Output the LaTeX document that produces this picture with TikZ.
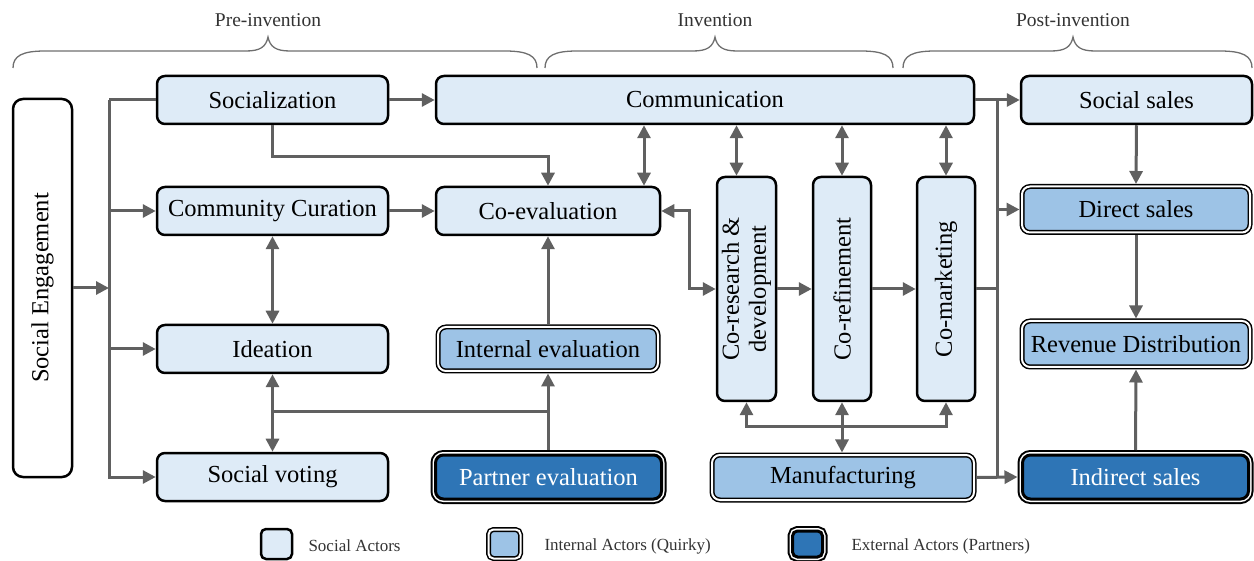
\documentclass[tikz,border=0pt]{standalone}
\usepackage{fontspec}
\setmainfont{Liberation Serif}
\usetikzlibrary{arrows.meta}
\definecolor{lightfill}{HTML}{DEEBF7}
\definecolor{midfill}{HTML}{9DC3E6}
\definecolor{darkfill}{HTML}{2E75B6}
\definecolor{linkgray}{HTML}{606060}
\definecolor{bracegray}{HTML}{6E6E6E}
\definecolor{labelgray}{HTML}{333333}

\tikzset{
  sz/.style 2 args={minimum width=#1, minimum height=#2},
  boxfont/.style={font=\fontsize{24.5}{27}\selectfont},
  social/.style={draw=black, line width=2.5pt, fill=lightfill, rounded corners=8pt,
    inner sep=0pt, align=center, boxfont},
  internal/.style={draw=black, line width=1.5pt, double=white, double distance=2pt,
    fill=midfill, rounded corners=8pt, inner sep=0pt, outer sep=2.5pt, align=center, boxfont},
  external/.style={preaction={draw=black, line width=10pt},
    preaction={draw=white, line width=6pt},
    draw=black, line width=3pt, fill=darkfill, text=white, rounded corners=8pt,
    inner sep=0pt, outer sep=5pt, align=center, boxfont},
  conn/.style={draw=linkgray, line width=3pt},
  >={Triangle[length=13pt, width=13pt]},
  bracestyle/.style={draw=bracegray, line width=1.3pt},
  phase/.style={font=\fontsize{19.5}{22}\selectfont, text=labelgray},
  legendtext/.style={font=\fontsize{17}{20}\selectfont, text=labelgray, anchor=west},
  vtext/.style={rotate=90, align=center, font=\fontsize{24.5}{27}\selectfont}
}

\begin{document}
\begin{tikzpicture}[x=1pt, y=-1pt]
\useasboundingbox (0,0) rectangle (1254,561);

% phase braces and labels
\draw[bracestyle] (13,68) .. controls (13,56) and (22,51) .. (45,51) -- (246,51)
  .. controls (260,51) and (266,47) .. (268,37) .. controls (270,47) and (276,51) .. (290,51)
  -- (505,51) .. controls (528,51) and (537,56) .. (537,68);
\draw[bracestyle] (545,68) .. controls (545,56) and (554,51) .. (577,51) -- (693,51)
  .. controls (707,51) and (713,47) .. (715,37) .. controls (717,47) and (723,51) .. (737,51)
  -- (861,51) .. controls (884,51) and (893,56) .. (893,68);
\draw[bracestyle] (903,68) .. controls (903,56) and (912,51) .. (935,51) -- (1051,51)
  .. controls (1065,51) and (1071,47) .. (1073,37) .. controls (1075,47) and (1081,51) .. (1095,51)
  -- (1220,51) .. controls (1243,51) and (1252,56) .. (1252,68);
\node[phase] (lpre)  at (268,20)  {Pre-invention};
\node[phase] (linv)  at (715,20)  {Invention};
\node[phase] (lpost) at (1073,20) {Post-invention};

% left column
\node[social, sz={59pt}{378pt}, rounded corners=10pt, fill=white] (seng) at (42.5,288) {};
\node[vtext] (sengtxt) at (seng) {Social Engagement};

\node[social, sz={231pt}{48pt}] (soc)  at (272.5,100) {Socialization};
\node[social, sz={231pt}{48pt}] (cur)  at (272.5,211) {Community Curation};
\node[social, sz={231pt}{48pt}] (idea) at (272.5,349) {Ideation};
\node[social, sz={231pt}{48pt}] (vote) at (272.5,477) {Social voting};

% evaluation column
\node[social, sz={538pt}{48pt}] (comm) at (705,100) {Communication};
\node[social, sz={224pt}{48pt}] (coev) at (548,211) {Co-evaluation};
\node[internal, sz={220pt}{44pt}] (inteval) at (548,349) {Internal evaluation};
\node[external, sz={226pt}{44pt}] (partner) at (548.5,477) {Partner evaluation};

% invention columns
\node[social, sz={59pt}{224pt}] (cord)   at (746.5,289) {};
\node[vtext] (cordtxt) at (cord) {Co-research \&\\development};
\node[social, sz={58pt}{224pt}] (coref)  at (842,289) {};
\node[vtext] (coreftxt) at (coref) {Co-refinement};
\node[social, sz={58pt}{224pt}] (comark) at (946,289) {};
\node[vtext] (comarktxt) at (comark) {Co-marketing};
\node[internal, sz={262pt}{45pt}] (manuf) at (843,477.5) {Manufacturing};

% sales column
\node[social, sz={231pt}{48pt}] (ssales) at (1136.5,100) {Social sales};
\node[internal, sz={228pt}{46pt}] (direct) at (1136,209.5) {Direct sales};
\node[internal, sz={228pt}{46pt}] (revenue) at (1136,344) {Revenue Distribution};
\node[external, sz={226pt}{44pt}] (indirect) at (1135.5,477) {Indirect sales};

% left bus
\coordinate (bl) at (109,100);
\draw[conn] (soc.west) -- (bl);
\draw[conn, ->] (bl) |- (vote.west);
\draw[conn, ->] (bl |- cur.west) -- (cur.west);
\draw[conn, ->] (bl |- idea.west) -- (idea.west);
\draw[conn, ->] (seng.east) -- (bl |- seng.east);

% pre-invention links
\draw[conn, ->] (soc.east) -- (soc.east -| comm.west);
\draw[conn, ->] (soc.south) -- ++(0,31) -| (coev.north);
\draw[conn, ->] (cur.east) -- (coev.west);
\draw[conn, <->] (cur.south) -- (idea.north);
\draw[conn, <->] (idea.south) -- (vote.north);
\coordinate (j1) at (272.5,412);
\draw[conn, ->] (j1) -| (inteval.south);
\draw[conn] (partner.north) -- (partner.north |- j1);
\draw[conn, ->] (inteval.north) -- (coev.south);
\draw[conn, <->] ([xshift=96pt]coev.north) -- ([xshift=96pt]coev.north |- comm.south);

% invention links
\draw[conn, <->] (coev.east) -- ++(28,0) |- (cord.west);
\draw[conn, ->] (cord.east) -- (coref.west);
\draw[conn, ->] (coref.east) -- (comark.west);
\draw[conn, <->] ([xshift=-10pt]cord.north) -- ([xshift=-10pt]cord.north |- comm.south);
\draw[conn, <->] (coref.north) -- (coref.north |- comm.south);
\draw[conn, <->] (comark.north) -- (comark.north |- comm.south);
\coordinate (j2) at (842,427);
\draw[conn, <->] (coref.south) -- (coref.south |- manuf.north);
\draw[conn, ->] (j2) -| (cord.south);
\draw[conn, ->] (j2) -| (comark.south);

% right bus and sales links
\coordinate (br) at (997,289);
\draw[conn] (comark.east) -- (br);
\draw[conn] (br |- comm.east) -- (br |- manuf.east);
\draw[conn, ->] (comm.east) -- (ssales.west);
\draw[conn, ->] (br |- direct.west) -- (direct.west);
\draw[conn, ->] (manuf.east) -- (indirect.west);
\draw[conn, ->] (ssales.south) -- (direct.north);
\draw[conn, ->] (direct.south) -- (revenue.north);
\draw[conn, ->] (indirect.north) -- (revenue.south);

% legend
\node[social, sz={31pt}{30pt}, rounded corners=5pt] (lgsoc) at (276.5,544) {};
\node[legendtext] (lgsoctxt) at (305,546) {Social Actors};
\node[internal, sz={32pt}{29pt}, rounded corners=5pt] (lgint) at (504.5,544) {};
\node[legendtext] (lginttxt) at (541,546) {Internal Actors (Quirky)};
\node[external, sz={30pt}{26pt}, rounded corners=5pt] (lgext) at (807.5,544) {};
\node[legendtext] (lgexttxt) at (848,546) {External Actors (Partners)};
\end{tikzpicture}
\end{document}
